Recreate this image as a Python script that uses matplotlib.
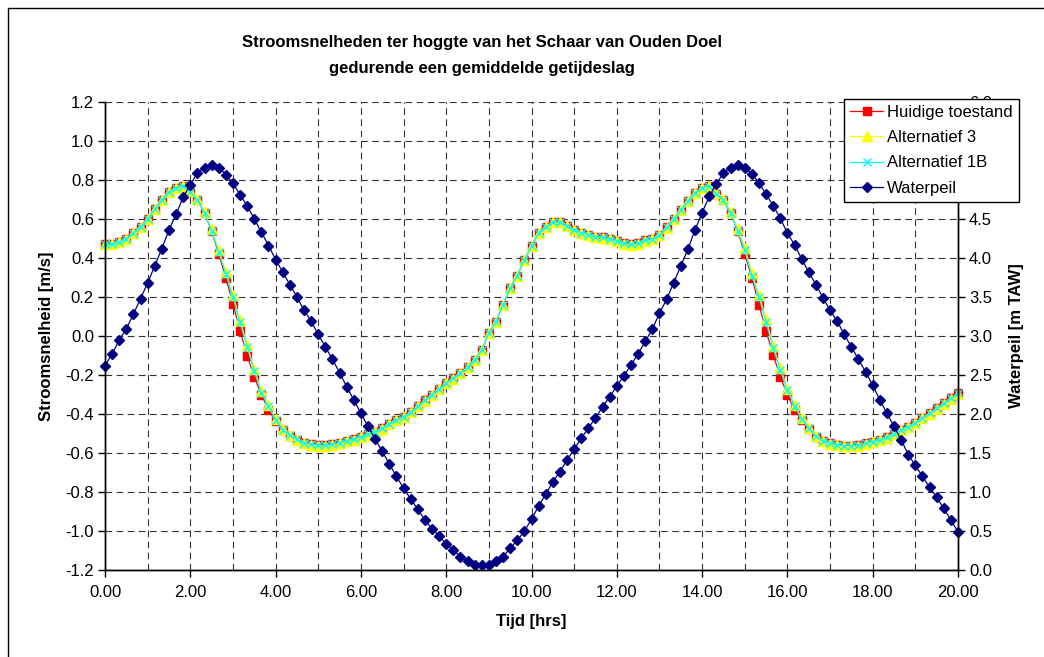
import numpy as np
import matplotlib
matplotlib.use("Agg")
import matplotlib.pyplot as plt
from matplotlib.patches import Rectangle

plt.rcParams['font.family'] = ['Liberation Sans', 'DejaVu Sans']

# time in hours (10-minute samples)
tijd = np.arange(121) / 6.0

waterpeil = [
    2.62, 2.77, 2.95, 3.09, 3.28, 3.48, 3.68, 3.90, 4.12, 4.36,
    4.56, 4.78, 4.94, 5.09, 5.16, 5.19, 5.16, 5.07, 4.96, 4.81,
    4.67, 4.50, 4.33, 4.16, 3.98, 3.82, 3.66, 3.50, 3.33, 3.19,
    3.02, 2.86, 2.70, 2.53, 2.35, 2.18, 2.01, 1.84, 1.68, 1.52,
    1.36, 1.20, 1.05, 0.91, 0.78, 0.64, 0.53, 0.44, 0.33, 0.26,
    0.17, 0.11, 0.07, 0.06, 0.06, 0.11, 0.17, 0.28, 0.38, 0.50,
    0.65, 0.82, 0.97, 1.13, 1.26, 1.41, 1.55, 1.69, 1.82, 1.95,
    2.09, 2.22, 2.36, 2.49, 2.63, 2.77, 2.93, 3.09, 3.29, 3.47,
    3.68, 3.90, 4.11, 4.36, 4.58, 4.79, 4.95, 5.09, 5.16, 5.19,
    5.16, 5.08, 4.96, 4.82, 4.67, 4.51, 4.32, 4.17, 3.99, 3.82,
    3.66, 3.49, 3.33, 3.19, 3.02, 2.86, 2.70, 2.54, 2.37, 2.18,
    2.01, 1.84, 1.67, 1.48, 1.34, 1.20, 1.06, 0.93, 0.79, 0.64,
    0.49,
]

alternatief_1b = [
    0.470, 0.470, 0.480, 0.500, 0.530, 0.560, 0.600, 0.650, 0.700, 0.740,
    0.760, 0.770, 0.740, 0.700, 0.630, 0.540, 0.430, 0.320, 0.200, 0.070,
    -0.055, -0.180, -0.290, -0.360, -0.430, -0.480, -0.510, -0.530, -0.547, -0.556,
    -0.560, -0.560, -0.556, -0.547, -0.537, -0.530, -0.516, -0.504, -0.490, -0.473,
    -0.450, -0.430, -0.414, -0.390, -0.360, -0.330, -0.300, -0.270, -0.240, -0.217,
    -0.190, -0.160, -0.123, -0.072, 0.017, 0.073, 0.160, 0.245, 0.310, 0.390,
    0.460, 0.530, 0.560, 0.583, 0.583, 0.564, 0.544, 0.530, 0.520, 0.510,
    0.506, 0.496, 0.487, 0.475, 0.470, 0.475, 0.490, 0.496, 0.518, 0.557,
    0.600, 0.646, 0.694, 0.735, 0.760, 0.770, 0.730, 0.700, 0.630, 0.540,
    0.440, 0.310, 0.200, 0.073, -0.063, -0.174, -0.277, -0.360, -0.425, -0.474,
    -0.515, -0.537, -0.550, -0.558, -0.562, -0.562, -0.560, -0.550, -0.542, -0.533,
    -0.520, -0.500, -0.480, -0.465, -0.444, -0.420, -0.396, -0.370, -0.345, -0.320,
    -0.294,
]

alternatief_3 = [
    0.470, 0.470, 0.480, 0.500, 0.530, 0.560, 0.600, 0.650, 0.700, 0.740,
    0.760, 0.770, 0.745, 0.705, 0.635, 0.548, 0.440, 0.330, 0.210, 0.080,
    -0.045, -0.170, -0.282, -0.355, -0.425, -0.478, -0.510, -0.532, -0.549, -0.558,
    -0.562, -0.562, -0.558, -0.549, -0.539, -0.532, -0.518, -0.506, -0.492, -0.475,
    -0.452, -0.432, -0.415, -0.391, -0.361, -0.331, -0.301, -0.271, -0.241, -0.218,
    -0.191, -0.161, -0.124, -0.073, 0.016, 0.072, 0.160, 0.245, 0.310, 0.390,
    0.460, 0.530, 0.560, 0.583, 0.583, 0.563, 0.543, 0.529, 0.519, 0.509,
    0.505, 0.495, 0.486, 0.474, 0.469, 0.474, 0.489, 0.495, 0.517, 0.556,
    0.600, 0.646, 0.694, 0.735, 0.760, 0.770, 0.735, 0.705, 0.638, 0.550,
    0.452, 0.322, 0.212, 0.085, -0.052, -0.165, -0.270, -0.354, -0.421, -0.472,
    -0.515, -0.538, -0.552, -0.560, -0.564, -0.564, -0.562, -0.552, -0.544, -0.535,
    -0.522, -0.502, -0.482, -0.467, -0.446, -0.422, -0.398, -0.372, -0.347, -0.322,
    -0.296,
]

huidige_toestand = [
    0.470, 0.470, 0.480, 0.500, 0.530, 0.560, 0.600, 0.650, 0.700, 0.740,
    0.760, 0.770, 0.740, 0.700, 0.630, 0.540, 0.420, 0.300, 0.165, 0.025,
    -0.100, -0.210, -0.300, -0.380, -0.435, -0.482, -0.512, -0.532, -0.548, -0.556,
    -0.560, -0.560, -0.556, -0.547, -0.537, -0.530, -0.516, -0.504, -0.490, -0.473,
    -0.450, -0.430, -0.414, -0.390, -0.360, -0.330, -0.300, -0.270, -0.240, -0.217,
    -0.190, -0.160, -0.123, -0.072, 0.017, 0.073, 0.160, 0.245, 0.310, 0.390,
    0.460, 0.530, 0.560, 0.583, 0.583, 0.564, 0.544, 0.530, 0.520, 0.510,
    0.506, 0.496, 0.487, 0.475, 0.470, 0.475, 0.490, 0.496, 0.518, 0.557,
    0.600, 0.646, 0.694, 0.735, 0.760, 0.770, 0.730, 0.700, 0.630, 0.540,
    0.420, 0.300, 0.160, 0.026, -0.097, -0.210, -0.300, -0.380, -0.432, -0.478,
    -0.516, -0.537, -0.550, -0.558, -0.562, -0.562, -0.560, -0.550, -0.542, -0.533,
    -0.520, -0.500, -0.480, -0.465, -0.444, -0.420, -0.396, -0.370, -0.345, -0.320,
    -0.294,
]

x_ticks = [0, 2, 4, 6, 8, 10, 12, 14, 16, 18, 20]
left_ticks = [-1.2, -1.0, -0.8, -0.6, -0.4, -0.2, 0.0, 0.2, 0.4, 0.6, 0.8, 1.0, 1.2]
right_ticks = [0.0, 0.5, 1.0, 1.5, 2.0, 2.5, 3.0, 3.5, 4.0, 4.5, 5.0, 5.5, 6.0]

W, H = 1044, 657
fig = plt.figure(figsize=(W / 100, H / 100), dpi=100)
fs = 12

# outer chart border (only left/top visible in the original)
fig.patches.append(Rectangle((8 / W, -0.05), 1.2, 1 - 8 / H + 0.05, transform=fig.transFigure,
                             fill=False, edgecolor='black', linewidth=1.0))

ax = fig.add_axes([105 / W, 1 - 570 / H, (958 - 105) / W, (570 - 102) / H])
ax2 = ax.twinx()

ax.set_xlim(0, 20)
ax.set_ylim(-1.2, 1.2)
ax2.set_ylim(0, 6)

ax.set_xticks(x_ticks)
ax.set_xticklabels([f"{v:.2f}" for v in x_ticks], fontsize=fs)
ax.set_xticks(np.arange(0, 21, 1), minor=True)
ax.set_yticks(left_ticks)
ax.set_yticklabels([f"{v:.1f}" for v in left_ticks], fontsize=fs)
ax2.set_yticks(right_ticks)
ax2.set_yticklabels([f"{v:.1f}" for v in right_ticks], fontsize=fs)

ax.tick_params(axis='x', which='major', direction='out', length=5, width=1, pad=6)
ax.tick_params(axis='x', which='minor', length=0)
ax.tick_params(axis='y', direction='out', length=5, width=1, pad=3)
ax2.tick_params(axis='y', direction='out', length=5, width=1, pad=3)

for a in (ax, ax2):
    for s in a.spines.values():
        s.set_linewidth(1.0)
        s.set_color('black')
ax.spines['top'].set_visible(False)
ax2.spines['top'].set_visible(False)

gl = dict(color='#333333', linestyle=(0, (6, 4)), linewidth=0.8)
ax.grid(True, which='minor', axis='x', **gl)
ax.grid(True, which='major', axis='x', **gl)
ax.grid(True, which='major', axis='y', **gl)
ax.set_axisbelow(True)

l1, = ax.plot(tijd, huidige_toestand, color='#FF0000', marker='s', markersize=5.5,
              linewidth=0.9, label='Huidige toestand', clip_on=False)
l2, = ax.plot(tijd, alternatief_3, color='#FFFF00', marker='^', markersize=6.5,
              linewidth=0.9, label='Alternatief 3', clip_on=False)
l3, = ax.plot(tijd, alternatief_1b, color='#00FFFF', marker='x', markersize=6,
              markeredgewidth=1.0, linewidth=0.9, label='Alternatief 1B', clip_on=False)
l4, = ax2.plot(tijd, waterpeil, color='#000080', marker='D', markersize=5,
               linewidth=0.9, label='Waterpeil', clip_on=False)

ax.set_xlabel('Tijd [hrs]', fontsize=fs, fontweight='bold', labelpad=10)
ax.set_ylabel('Stroomsnelheid [m/s]', fontsize=fs, fontweight='bold', labelpad=8)
ax2.set_ylabel('Waterpeil [m TAW]', fontsize=fs, fontweight='bold', labelpad=12)

fig.text(482 / W, 1 - 42 / H,
         'Stroomsnelheden ter hoggte van het Schaar van Ouden Doel',
         ha='center', va='center', fontsize=fs, fontweight='bold')
fig.text(482 / W, 1 - 68 / H,
         'gedurende een gemiddelde getijdeslag',
         ha='center', va='center', fontsize=fs, fontweight='bold')

leg = fig.legend([l1, l2, l3, l4], ['Huidige toestand', 'Alternatief 3', 'Alternatief 1B', 'Waterpeil'],
                 loc='upper left', bbox_to_anchor=(844 / W, 1 - 99 / H),
                 fontsize=fs, frameon=True, fancybox=False, shadow=False,
                 framealpha=1, edgecolor='black', borderpad=0.35,
                 handlelength=2.0, handletextpad=0.25, labelspacing=0.62,
                 borderaxespad=0)
leg.get_frame().set_linewidth(1.0)
leg.set_zorder(10)

fig.savefig('out.png', dpi=100)
